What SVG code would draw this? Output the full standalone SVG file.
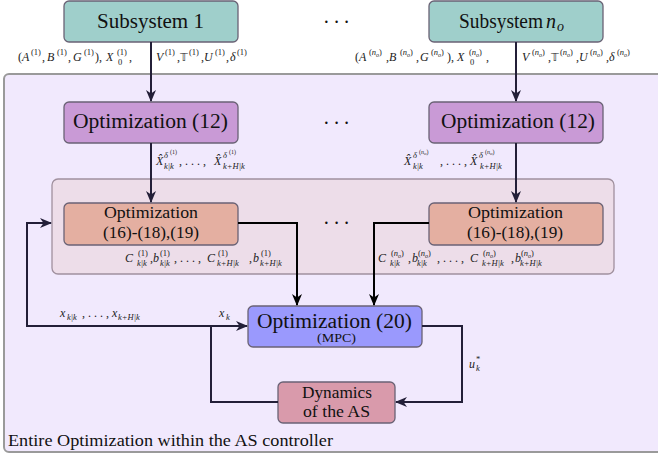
<svg xmlns="http://www.w3.org/2000/svg" width="658" height="457" viewBox="0 0 658 457">
<style>
.box{stroke:#6a6275;stroke-width:1.3}
.t{fill:#111}
.m{font-size:12px;fill:#222}
.i{font-style:italic}
.s{font-size:8.5px}
.ss{font-size:6px}
.dots{font-size:20px;fill:#111}
.ln{fill:none;stroke:#231f38;stroke-width:2}
.lk{fill:none;stroke:#000;stroke-width:2}
</style>
<defs>
<marker id="ah" viewBox="0 0 12 10" refX="11" refY="5" markerWidth="12" markerHeight="10" markerUnits="userSpaceOnUse" orient="auto">
<path d="M0,0 L12,5 L0,10 L3.5,5 Z" fill="#231f38"/>
</marker>
<marker id="ak" viewBox="0 0 12 10" refX="11" refY="5" markerWidth="12" markerHeight="10" markerUnits="userSpaceOnUse" orient="auto">
<path d="M0,0 L12,5 L0,10 L3.5,5 Z" fill="#000"/>
</marker>
</defs>

<g id="outer">
<rect x="4" y="74" width="665" height="378" rx="5" fill="#f1e9fd" stroke="#9a9a9a" stroke-width="2"/>
<text class="t" style="font-family:'Liberation Serif',serif" x="8" y="446" font-size="17" textLength="325" lengthAdjust="spacingAndGlyphs">Entire Optimization within the AS controller</text>
</g>
<g id="inner">
<rect x="52" y="179" width="562" height="95" rx="6" fill="#eddde9" stroke="#a0909e" stroke-width="1.3"/>
</g>

<g id="sub1">
<rect class="box" x="64" y="1" width="174" height="41" rx="5" fill="#9fcfcb"/>
<text class="t" style="font-family:'Liberation Serif',serif" x="97" y="28" font-size="20" textLength="107" lengthAdjust="spacingAndGlyphs">Subsystem 1</text>
</g>
<g id="subno">
<rect class="box" x="429" y="1" width="174" height="41" rx="5" fill="#9fcfcb"/>
<text class="t" style="font-family:'Liberation Serif',serif" x="459" y="28" font-size="20"><tspan textLength="84" lengthAdjust="spacingAndGlyphs">Subsystem</tspan><tspan x="546" class="i">n</tspan><tspan x="557" y="31" font-size="14" class="i">o</tspan></text>
</g>
<g id="opt12a">
<rect class="box" x="64" y="102" width="174" height="41" rx="5" fill="#c99ad6"/>
<text class="t" style="font-family:'Liberation Serif',serif" x="73" y="128" font-size="20" textLength="155" lengthAdjust="spacingAndGlyphs">Optimization (12)</text>
</g>
<g id="opt12b">
<rect class="box" x="429" y="102" width="174" height="41" rx="5" fill="#c99ad6"/>
<text class="t" style="font-family:'Liberation Serif',serif" x="441" y="128" font-size="20" textLength="154" lengthAdjust="spacingAndGlyphs">Optimization (12)</text>
</g>
<g id="opt16a">
<rect class="box" x="64" y="203" width="174" height="42" rx="5" fill="#e4afa1"/>
<text class="t" style="font-family:'Liberation Serif',serif" x="104" y="218" font-size="17.5" textLength="94" lengthAdjust="spacingAndGlyphs">Optimization</text>
<text class="t" style="font-family:'Liberation Serif',serif" x="103" y="238" font-size="17.5" textLength="96" lengthAdjust="spacingAndGlyphs">(16)-(18),(19)</text>
</g>
<g id="opt16b">
<rect class="box" x="429" y="203" width="174" height="42" rx="5" fill="#e4afa1"/>
<text class="t" style="font-family:'Liberation Serif',serif" x="468" y="218" font-size="17.5" textLength="95" lengthAdjust="spacingAndGlyphs">Optimization</text>
<text class="t" style="font-family:'Liberation Serif',serif" x="467" y="238" font-size="17.5" textLength="96" lengthAdjust="spacingAndGlyphs">(16)-(18),(19)</text>
</g>
<g id="opt20">
<rect class="box" x="248" y="306" width="174" height="41" rx="5" fill="#9a99fd"/>
<text class="t" style="font-family:'Liberation Serif',serif" x="257" y="328" font-size="20" textLength="155" lengthAdjust="spacingAndGlyphs">Optimization (20)</text>
<text class="t" style="font-family:'Liberation Serif',serif" x="317" y="342" font-size="12" textLength="39" lengthAdjust="spacingAndGlyphs">(MPC)</text>
</g>
<g id="dyn">
<rect class="box" x="278" y="382" width="117" height="41" rx="5" fill="#d99aab"/>
<text class="t" style="font-family:'Liberation Serif',serif" x="302" y="398" font-size="17.5" textLength="70" lengthAdjust="spacingAndGlyphs">Dynamics</text>
<text class="t" style="font-family:'Liberation Serif',serif" x="303" y="417" font-size="17.5" textLength="67" lengthAdjust="spacingAndGlyphs">of the AS</text>
</g>

<g id="ellipses">
<text class="dots" style="font-family:'Liberation Serif',serif" x="323" y="29" textLength="27" lengthAdjust="spacing">&#183; &#183; &#183;</text>
<text class="dots" style="font-family:'Liberation Serif',serif" x="323" y="130" textLength="27" lengthAdjust="spacing">&#183; &#183; &#183;</text>
<text class="dots" style="font-family:'Liberation Serif',serif" x="323" y="230" textLength="27" lengthAdjust="spacing">&#183; &#183; &#183;</text>
</g>

<g id="connectors">
<path class="ln" d="M151,42 V101" marker-end="url(#ah)"/>
<path class="ln" d="M516,42 V101" marker-end="url(#ah)"/>
<path class="ln" d="M151,143 V202" marker-end="url(#ah)"/>
<path class="ln" d="M516,143 V202" marker-end="url(#ah)"/>
<path class="lk" d="M238,223 H297 V305" marker-end="url(#ak)"/>
<path class="lk" d="M429,223 H374 V305" marker-end="url(#ak)"/>
<path class="ln" d="M422,326 H462 V402 H396" marker-end="url(#ah)"/>
<path class="ln" d="M278,402 H211 V326"/>
<path class="ln" d="M27,326 H247" marker-end="url(#ah)"/>
<path class="ln" d="M27,327 V223 H51" marker-end="url(#ah)"/>
</g>

<g id="labels">
<text class="m" style="font-family:'Liberation Serif',serif"><tspan x="18" y="61">(</tspan><tspan x="22" class="i">A</tspan><tspan x="31" y="55" class="s">(1)</tspan><tspan x="42" y="61">,</tspan><tspan x="47" class="i">B</tspan><tspan x="57" y="55" class="s">(1)</tspan><tspan x="68" y="61">,</tspan><tspan x="73" class="i">G</tspan><tspan x="84" y="55" class="s">(1)</tspan><tspan x="95" y="61">),</tspan><tspan x="106" class="i">X</tspan><tspan x="117" y="55" class="s">(1)</tspan><tspan x="118" y="65" class="s">0</tspan><tspan x="129" y="61">,</tspan></text>
<text class="m" style="font-family:'Liberation Serif',serif"><tspan x="156" y="61" class="i">V</tspan><tspan x="165" y="55" class="s">(1)</tspan><tspan x="177" y="61">,</tspan><tspan x="180" font-size="11" style="font-family:'DejaVu Sans',serif">&#x1D54B;</tspan><tspan x="189" y="55" class="s">(1)</tspan><tspan x="201" y="61">,</tspan><tspan x="204" class="i">U</tspan><tspan x="215" y="55" class="s">(1)</tspan><tspan x="226" y="61">,</tspan><tspan x="230" class="i">&#948;</tspan><tspan x="237" y="55" class="s">(1)</tspan></text>

<text class="m" style="font-family:'Liberation Serif',serif"><tspan x="355" y="61">(</tspan><tspan x="359" class="i">A</tspan><tspan x="369" y="55" class="s">(</tspan><tspan class="s i">n</tspan><tspan class="ss i" dy="1.5">o</tspan><tspan class="s" dy="-1.5">)</tspan><tspan x="386" y="61">,</tspan><tspan x="389" class="i">B</tspan><tspan x="400" y="55" class="s">(</tspan><tspan class="s i">n</tspan><tspan class="ss i" dy="1.5">o</tspan><tspan class="s" dy="-1.5">)</tspan><tspan x="416" y="61">,</tspan><tspan x="420" class="i">G</tspan><tspan x="431" y="55" class="s">(</tspan><tspan class="s i">n</tspan><tspan class="ss i" dy="1.5">o</tspan><tspan class="s" dy="-1.5">)</tspan><tspan x="447" y="61">),</tspan><tspan x="457" class="i">X</tspan><tspan x="469" y="55" class="s">(</tspan><tspan class="s i">n</tspan><tspan class="ss i" dy="1.5">o</tspan><tspan class="s" dy="-1.5">)</tspan><tspan x="470" y="65" class="s">0</tspan><tspan x="486" y="61">,</tspan></text>
<text class="m" style="font-family:'Liberation Serif',serif"><tspan x="522" y="61" class="i">V</tspan><tspan x="532" y="55" class="s">(</tspan><tspan class="s i">n</tspan><tspan class="ss i" dy="1.5">o</tspan><tspan class="s" dy="-1.5">)</tspan><tspan x="548" y="61">,</tspan><tspan x="551" font-size="11" style="font-family:'DejaVu Sans',serif">&#x1D54B;</tspan><tspan x="560" y="55" class="s">(</tspan><tspan class="s i">n</tspan><tspan class="ss i" dy="1.5">o</tspan><tspan class="s" dy="-1.5">)</tspan><tspan x="576" y="61">,</tspan><tspan x="579" class="i">U</tspan><tspan x="590" y="55" class="s">(</tspan><tspan class="s i">n</tspan><tspan class="ss i" dy="1.5">o</tspan><tspan class="s" dy="-1.5">)</tspan><tspan x="606" y="61">,</tspan><tspan x="609" class="i">&#948;</tspan><tspan x="617" y="55" class="s">(</tspan><tspan class="s i">n</tspan><tspan class="ss i" dy="1.5">o</tspan><tspan class="s" dy="-1.5">)</tspan></text>

<text class="m" style="font-family:'Liberation Serif',serif"><tspan x="156" y="165" class="i">X&#770;</tspan><tspan x="164" y="158" class="s i">&#948;</tspan><tspan x="170" y="154" class="ss">(1)</tspan><tspan x="164" y="169" class="s i">k|k</tspan><tspan x="179" y="165">, . . . ,</tspan><tspan x="214" class="i">X&#770;</tspan><tspan x="223" y="158" class="s i">&#948;</tspan><tspan x="229" y="154" class="ss">(1)</tspan><tspan x="223" y="169" class="s i">k+H|k</tspan></text>
<text class="m" style="font-family:'Liberation Serif',serif"><tspan x="404" y="165" class="i">X&#770;</tspan><tspan x="413" y="158" class="s i">&#948;</tspan><tspan x="419" y="154" class="ss">(</tspan><tspan class="ss i">n</tspan><tspan font-size="5" class="i" dy="1">o</tspan><tspan class="ss" dy="-1">)</tspan><tspan x="413" y="169" class="s i">k|k</tspan><tspan x="440" y="165">, . . . ,</tspan><tspan x="470" class="i">X&#770;</tspan><tspan x="479" y="158" class="s i">&#948;</tspan><tspan x="485" y="154" class="ss">(</tspan><tspan class="ss i">n</tspan><tspan font-size="5" class="i" dy="1">o</tspan><tspan class="ss" dy="-1">)</tspan><tspan x="480" y="169" class="s i">k+H|k</tspan></text>

<text class="m" style="font-family:'Liberation Serif',serif"><tspan x="125" y="262" class="i">C</tspan><tspan x="138" y="256" class="s">(1)</tspan><tspan x="137" y="266" class="s i">k|k</tspan><tspan x="150" y="262">,</tspan><tspan x="153" class="i">b</tspan><tspan x="160" y="256" class="s">(1)</tspan><tspan x="160" y="266" class="s i">k|k</tspan><tspan x="174" y="262">, . . . ,</tspan><tspan x="207" class="i">C</tspan><tspan x="218" y="256" class="s">(1)</tspan><tspan x="217" y="266" class="s i">k+H|k</tspan><tspan x="249" y="262">,</tspan><tspan x="253" class="i">b</tspan><tspan x="261" y="256" class="s">(1)</tspan><tspan x="260" y="266" class="s i">k+H|k</tspan></text>
<text class="m" style="font-family:'Liberation Serif',serif"><tspan x="378" y="262" class="i">C</tspan><tspan x="391" y="256" class="s">(</tspan><tspan class="s i">n</tspan><tspan class="ss i" dy="1.5">o</tspan><tspan class="s" dy="-1.5">)</tspan><tspan x="390" y="266" class="s i">k|k</tspan><tspan x="408" y="262">,</tspan><tspan x="412" class="i">b</tspan><tspan x="418" y="256" class="s">(</tspan><tspan class="s i">n</tspan><tspan class="ss i" dy="1.5">o</tspan><tspan class="s" dy="-1.5">)</tspan><tspan x="417" y="266" class="s i">k|k</tspan><tspan x="437" y="262">, . . . ,</tspan><tspan x="470" class="i">C</tspan><tspan x="483" y="256" class="s">(</tspan><tspan class="s i">n</tspan><tspan class="ss i" dy="1.5">o</tspan><tspan class="s" dy="-1.5">)</tspan><tspan x="482" y="266" class="s i">k+H|k</tspan><tspan x="511" y="262">,</tspan><tspan x="515" class="i">b</tspan><tspan x="521" y="256" class="s">(</tspan><tspan class="s i">n</tspan><tspan class="ss i" dy="1.5">o</tspan><tspan class="s" dy="-1.5">)</tspan><tspan x="520" y="266" class="s i">k+H|k</tspan></text>

<text class="m" style="font-family:'Liberation Serif',serif"><tspan x="60" y="317" class="i">x</tspan><tspan x="67" y="320" class="s i">k|k</tspan><tspan x="82" y="317">, . . . ,</tspan><tspan x="112" class="i">x</tspan><tspan x="118" y="320" class="s i">k+H|k</tspan></text>
<text class="m" style="font-family:'Liberation Serif',serif"><tspan x="219" y="317" class="i">x</tspan><tspan x="226" y="320" class="s i">k</tspan></text>
<text class="m" style="font-family:'Liberation Serif',serif"><tspan x="469" y="368" class="i">u</tspan><tspan x="476" y="362" class="s">*</tspan><tspan x="476" y="371" class="s i">k</tspan></text>
</g>
</svg>
